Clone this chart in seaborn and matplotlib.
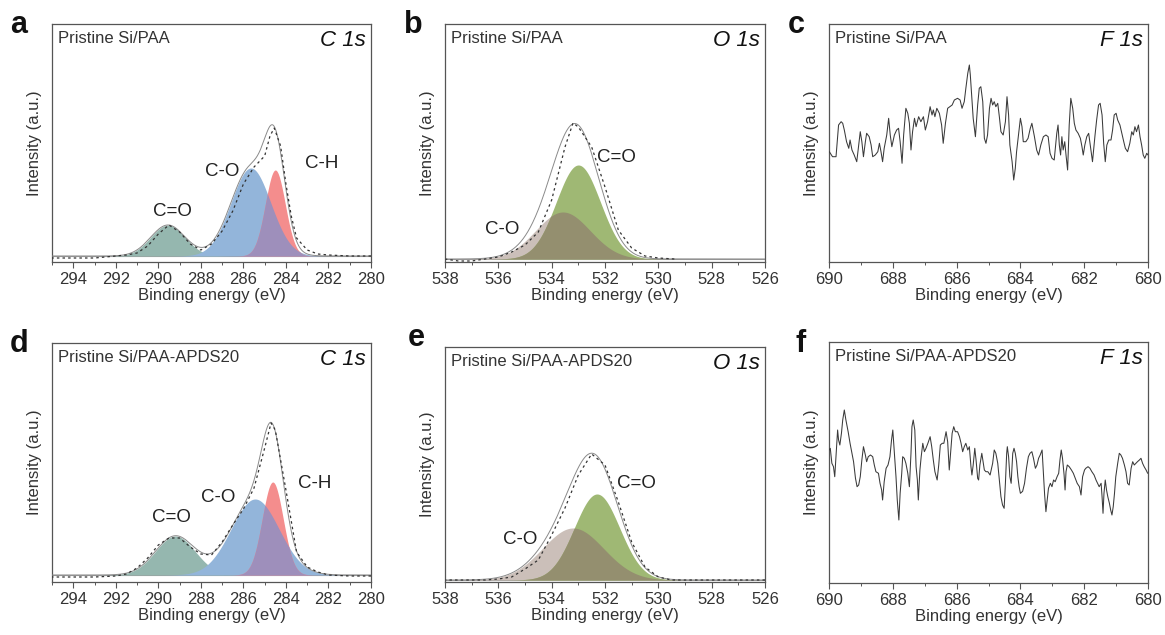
import numpy as np
import pandas as pd
import matplotlib
matplotlib.use("Agg")
import matplotlib.pyplot as plt
import seaborn as sns
from matplotlib.ticker import MultipleLocator

# ---------------- C 1s fit components (center eV, height a.u., FWHM eV) ----------------
c1s_names = ["C=O", "C-O", "C-H"]
c1s_a_center = [289.55, 285.65, 284.50]
c1s_a_height = [31, 88, 86]
c1s_a_fwhm = [1.9, 2.2, 1.1]
c1s_d_center = [289.20, 285.45, 284.62]
c1s_d_height = [39, 76, 93]
c1s_d_fwhm = [2.2, 2.65, 1.16]

# ---------------- O 1s fit components ----------------
o1s_names = ["C-O", "C=O"]
o1s_b_center = [533.58, 533.00]
o1s_b_height = [47, 94]
o1s_b_fwhm = [2.4, 1.95]
o1s_e_center = [533.20, 532.30]
o1s_e_height = [52, 86]
o1s_e_fwhm = [2.7, 2.0]

c1s_a_energy = [295.0, 294.0, 293.0, 292.5, 292.0, 291.5, 291.0, 290.5, 290.0, 289.5, 289.0,
                288.5, 288.0, 287.5, 287.0, 286.5, 286.0, 285.5, 285.0, 284.75, 284.55, 284.25,
                284.0, 283.75, 283.5, 283.0, 282.5, 282.0, 281.0, 280.0]
c1s_a_counts = [-2, -2, -2, -1, 0, 1, 3, 10, 22, 31, 24,
                12, 6, 12, 25, 45, 72, 89, 100, 120, 128, 110,
                72, 40, 18, 6, 2, 1, 0, 0]

c1s_d_energy = [295.0, 294.0, 293.0, 292.0, 291.5, 291.0, 290.5, 290.0, 289.5, 289.0, 288.5,
                288.0, 287.5, 287.0, 286.5, 286.0, 285.5, 285.0, 284.7, 284.5, 284.0, 283.5,
                283.0, 282.5, 282.0, 281.0, 280.0]
c1s_d_counts = [-2, -2, -2, -1, 1, 7, 17, 30, 37, 37, 28,
                21, 20, 33, 50, 66, 87, 127, 152, 145, 85, 23,
                8, 3, 0, -1, -1]

o1s_b_energy = [538.0, 537.5, 537.0, 536.5, 536.0, 535.5, 535.0, 534.5, 534.0, 533.5, 533.2,
                533.0, 532.5, 532.0, 531.5, 531.0, 530.5, 530.0, 529.4]
o1s_b_counts = [0, -2, -2, 0, 2, 7, 14, 27, 59, 112, 136,
                132, 112, 72, 29, 11, 3, 1, 0]

o1s_e_energy = [538.0, 537.0, 536.5, 536.0, 535.5, 535.0, 534.5, 534.0, 533.5, 533.0, 532.5,
                532.0, 531.5, 531.0, 530.5, 530.0, 529.5, 529.0, 528.0, 526.0]
o1s_e_counts = [0, 0, 0, 1, 3, 11, 20, 45, 72, 105, 126,
                115, 78, 38, 13, 3, 0, 0, 0, 0]

# ---------------- F 1s spectra ----------------
f1s_c_energy = [689.99, 689.89, 689.78, 689.70, 689.62, 689.57, 689.52, 689.45, 689.38, 689.34,
                689.28, 689.21, 689.13, 689.07, 689.02, 688.97, 688.92, 688.86, 688.82, 688.74,
                688.68, 688.63, 688.55, 688.47, 688.42, 688.37, 688.32, 688.27, 688.19, 688.13,
                688.08, 688.03, 687.95, 687.88, 687.82, 687.77, 687.71, 687.66, 687.59, 687.53,
                687.48, 687.43, 687.38, 687.32, 687.27, 687.19, 687.12, 687.04, 686.98, 686.91,
                686.83, 686.77, 686.73, 686.68, 686.62, 686.54, 686.47, 686.42, 686.35, 686.28,
                686.21, 686.14, 686.07, 685.97, 685.89, 685.83, 685.76, 685.71, 685.65, 685.60,
                685.57, 685.52, 685.48, 685.41, 685.34, 685.29, 685.24, 685.18, 685.13, 685.08,
                685.03, 684.97, 684.92, 684.87, 684.82, 684.77, 684.71, 684.66, 684.61, 684.54,
                684.47, 684.42, 684.37, 684.33, 684.26, 684.21, 684.16, 684.12, 684.06, 684.00,
                683.95, 683.91, 683.83, 683.76, 683.69, 683.64, 683.56, 683.49, 683.43, 683.36,
                683.28, 683.20, 683.13, 683.07, 683.01, 682.94, 682.86, 682.82, 682.78, 682.74,
                682.70, 682.66, 682.61, 682.57, 682.52, 682.47, 682.42, 682.36, 682.31, 682.26,
                682.19, 682.12, 682.07, 682.03, 681.98, 681.92, 681.86, 681.81, 681.74, 681.66,
                681.61, 681.55, 681.50, 681.44, 681.39, 681.34, 681.29, 681.23, 681.16, 681.11,
                681.06, 681.00, 680.95, 680.88, 680.82, 680.76, 680.71, 680.64, 680.57, 680.51,
                680.46, 680.41, 680.36, 680.30, 680.25, 680.20, 680.15, 680.10, 680.04, 680.00]
f1s_c_counts = [110.3, 105.3, 105.3, 137.0, 140.3, 138.7, 132.0, 120.3, 113.7, 122.0,
                112.0, 107.0, 100.3, 117.0, 130.3, 120.3, 105.3, 120.3, 128.7, 125.3,
                117.0, 105.3, 107.0, 110.3, 118.7, 110.3, 100.3, 113.7, 127.0, 143.7,
                127.0, 115.3, 127.0, 132.0, 133.7, 120.3, 98.7, 127.0, 153.7, 148.7,
                138.7, 112.0, 130.3, 143.7, 135.3, 145.3, 140.3, 145.3, 132.0, 140.3,
                155.3, 147.0, 152.0, 145.3, 153.7, 148.7, 137.0, 118.7, 138.7, 153.7,
                155.3, 157.0, 162.0, 163.7, 162.0, 153.7, 160.3, 173.7, 188.7, 197.0,
                187.0, 163.7, 143.7, 125.3, 157.0, 173.7, 175.3, 160.3, 123.7, 118.7,
                127.0, 153.7, 163.7, 157.0, 160.3, 155.3, 158.7, 145.3, 130.3, 127.0,
                140.3, 165.3, 147.0, 117.0, 100.3, 82.0, 93.7, 110.3, 127.0, 143.7,
                135.3, 120.3, 120.3, 123.7, 133.7, 138.7, 125.3, 112.0, 107.0, 117.0,
                125.3, 127.0, 125.3, 108.7, 103.7, 102.0, 128.7, 137.0, 117.0, 107.0,
                125.3, 112.0, 120.3, 107.0, 92.0, 137.0, 163.7, 153.7, 138.7, 132.0,
                128.7, 123.7, 115.3, 107.0, 117.0, 125.3, 128.7, 117.0, 100.3, 127.0,
                142.0, 157.0, 158.7, 147.0, 118.7, 100.3, 117.0, 122.0, 122.0, 132.0,
                147.0, 148.7, 142.0, 137.0, 128.7, 120.3, 113.7, 110.3, 118.7, 130.3,
                127.0, 135.3, 130.3, 137.0, 125.3, 117.0, 107.0, 103.7, 108.7, 107.0]

f1s_f_energy = [690.00, 689.96, 689.91, 689.86, 689.82, 689.78, 689.73, 689.70, 689.66, 689.61,
                689.57, 689.52, 689.47, 689.40, 689.34, 689.28, 689.23, 689.17, 689.12, 689.07,
                689.02, 688.97, 688.92, 688.86, 688.82, 688.77, 688.70, 688.63, 688.58, 688.53,
                688.45, 688.40, 688.35, 688.32, 688.27, 688.21, 688.15, 688.09, 688.04, 688.00,
                687.95, 687.90, 687.86, 687.81, 687.77, 687.72, 687.69, 687.64, 687.59, 687.53,
                687.48, 687.43, 687.40, 687.36, 687.31, 687.27, 687.23, 687.20, 687.15, 687.11,
                687.06, 687.01, 686.96, 686.90, 686.83, 686.78, 686.73, 686.68, 686.61, 686.56,
                686.51, 686.45, 686.40, 686.37, 686.33, 686.28, 686.23, 686.19, 686.14, 686.09,
                686.04, 685.97, 685.91, 685.86, 685.81, 685.76, 685.71, 685.65, 685.60, 685.55,
                685.52, 685.48, 685.43, 685.39, 685.34, 685.31, 685.27, 685.21, 685.18, 685.13,
                685.08, 685.02, 684.95, 684.87, 684.82, 684.77, 684.71, 684.66, 684.61, 684.56,
                684.51, 684.47, 684.43, 684.41, 684.37, 684.33, 684.29, 684.24, 684.20, 684.16,
                684.12, 684.08, 684.04, 684.00, 683.93, 683.87, 683.81, 683.75, 683.70, 683.64,
                683.59, 683.53, 683.48, 683.43, 683.38, 683.32, 683.28, 683.24, 683.20, 683.16,
                683.12, 683.06, 683.01, 682.96, 682.91, 682.85, 682.80, 682.76, 682.72, 682.68,
                682.63, 682.60, 682.57, 682.53, 682.47, 682.40, 682.34, 682.28, 682.22, 682.15,
                682.10, 682.05, 681.99, 681.95, 681.88, 681.82, 681.76, 681.69, 681.63, 681.58,
                681.53, 681.47, 681.44, 681.41, 681.38, 681.34, 681.30, 681.26, 681.21, 681.17,
                681.13, 681.09, 681.05, 681.01, 680.95, 680.90, 680.85, 680.80, 680.74, 680.69,
                680.64, 680.59, 680.53, 680.48, 680.43, 680.38, 680.33, 680.27, 680.22, 680.17,
                680.12, 680.06, 680.01]
f1s_f_counts = [133.0, 134.7, 119.7, 116.3, 106.3, 128.0, 153.0, 143.0, 138.0, 149.7,
                163.0, 173.0, 163.0, 151.3, 139.7, 129.7, 121.3, 104.7, 96.3, 98.0,
                106.3, 123.0, 136.3, 128.0, 121.3, 126.3, 128.0, 126.3, 118.0, 111.3,
                109.7, 99.7, 93.0, 83.0, 101.3, 114.7, 118.0, 126.3, 143.0, 153.0,
                129.7, 106.3, 83.0, 63.0, 89.7, 109.7, 126.3, 124.7, 119.7, 109.7,
                96.3, 129.7, 156.3, 163.0, 153.0, 116.3, 103.0, 83.0, 113.0, 126.3,
                139.7, 131.3, 134.7, 139.7, 146.3, 136.3, 123.0, 111.3, 103.0, 118.0,
                138.0, 139.7, 139.7, 144.7, 151.3, 141.3, 113.0, 129.7, 149.7, 156.3,
                151.3, 151.3, 146.3, 139.7, 131.3, 136.3, 139.7, 133.0, 136.3, 116.3,
                108.0, 118.0, 134.7, 123.0, 104.7, 103.0, 118.0, 129.7, 123.0, 113.0,
                111.3, 111.3, 108.0, 119.7, 133.0, 129.7, 119.7, 103.0, 86.3, 78.0,
                74.7, 99.7, 129.7, 136.3, 126.3, 106.3, 99.7, 129.7, 134.7, 129.7,
                121.3, 106.3, 96.3, 89.7, 91.7, 99.7, 114.7, 126.3, 129.7, 131.3,
                124.7, 114.7, 118.0, 124.7, 128.0, 133.0, 109.7, 88.0, 71.3, 83.0,
                94.7, 99.7, 96.3, 103.0, 101.3, 106.3, 109.7, 123.0, 133.0, 124.7,
                108.0, 93.0, 111.3, 118.0, 116.3, 113.0, 109.7, 104.7, 99.7, 96.3,
                88.0, 106.3, 113.0, 114.7, 116.3, 114.7, 111.3, 108.0, 103.0, 99.7,
                96.3, 99.7, 86.3, 69.7, 89.7, 103.0, 93.0, 86.3, 79.7, 73.0,
                68.0, 76.3, 89.7, 106.3, 119.7, 129.7, 128.0, 124.7, 118.0, 111.3,
                99.7, 98.0, 114.7, 121.3, 118.0, 119.7, 121.3, 123.0, 124.7, 119.7,
                116.3, 113.0, 109.7]

# ---------------- text ----------------
panel_letters = ["a", "b", "c", "d", "e", "f"]
sample_names = ["Pristine Si/PAA", "Pristine Si/PAA-APDS20"]
core_levels = ["C 1s", "O 1s", "F 1s"]
x_label = "Binding energy (eV)"
y_label = "Intensity (a.u.)"

# ---------------- style ----------------
sns.set_theme(style="ticks")
plt.rcParams["font.family"] = ["Liberation Sans", "DejaVu Sans"]
TXT = "#333333"
SPINE = "#555555"
col_CO_c1s = "#95b7af"   # C=O (C 1s)
col_COs_c1s = "#93b5da"  # C-O (C 1s)
col_CH = "#f48d8d"
col_ov_c1s = "#9e8fbb"
col_CO_o1s = "#cbbfb9"   # C-O (O 1s)
col_CdO_o1s = "#9fb874"  # C=O (O 1s)
col_ov_o1s = "#948f6f"

W, H = 1165, 635
fig = plt.figure(figsize=(W / 100, H / 100), dpi=100)


def px_axes(left, top, right, bottom):
    return fig.add_axes([left / W, 1 - bottom / H, (right - left) / W, (bottom - top) / H])


def gauss(x, c, h, w):
    return h * np.exp(-4 * np.log(2) * (x - c) ** 2 / w ** 2)


def style_axes(ax, xlim, ylim):
    ax.set_xlim(*xlim)
    ax.set_ylim(*ylim)
    ax.set_yticks([])
    ax.xaxis.set_major_locator(MultipleLocator(2))
    ax.xaxis.set_minor_locator(MultipleLocator(1))
    ax.tick_params(axis="x", which="major", direction="out", length=4, width=0.8,
                   color=SPINE, labelsize=12, labelcolor=TXT, pad=3)
    ax.tick_params(axis="x", which="minor", direction="out", length=2.5, width=0.7, color=SPINE)
    for s in ax.spines.values():
        s.set_visible(True)
        s.set_color(SPINE)
        s.set_linewidth(0.9)
    ax.set_xlabel(x_label, fontsize=12, color=TXT, labelpad=1)
    ax.set_ylabel(y_label, fontsize=12, color=TXT, labelpad=7)


def header(ax, sample, level):
    ax.text(0.02, 0.972, sample, transform=ax.transAxes, ha="left", va="top",
            fontsize=12, color=TXT)
    ax.text(0.985, 0.975, level, transform=ax.transAxes, ha="right", va="top",
            fontsize=16, style="italic", color="#111111")


def draw_c1s(ax, centers, heights, fwhms, e_meas, c_meas, xlim, ylim):
    x = np.linspace(xlim[1], xlim[0], 800)
    comps = [gauss(x, c, h, w) for c, h, w in zip(centers, heights, fwhms)]
    ax.axhline(0, color="#9a9a9a", lw=0.8, zorder=1)
    ax.fill_between(x, 0, comps[0], color=col_CO_c1s, lw=0, zorder=2)
    ax.fill_between(x, 0, comps[1], color=col_COs_c1s, lw=0, zorder=2)
    ax.fill_between(x, 0, comps[2], color=col_CH, lw=0, zorder=2)
    ax.fill_between(x, 0, np.minimum(comps[1], comps[2]), color=col_ov_c1s, lw=0, zorder=3)
    env = pd.DataFrame({"E": x, "I": comps[0] + comps[1] + comps[2]})
    sns.lineplot(data=env, x="E", y="I", ax=ax, color="#8a8a8a", lw=0.7, zorder=4)
    meas = pd.DataFrame({"E": e_meas, "I": c_meas})
    sns.lineplot(data=meas, x="E", y="I", ax=ax, color="#333333", lw=0.9,
                 linestyle=(0, (2, 2.5)), zorder=5)


def draw_o1s(ax, centers, heights, fwhms, e_meas, c_meas, xlim, ylim):
    x = np.linspace(xlim[1], xlim[0], 800)
    comps = [gauss(x, c, h, w) for c, h, w in zip(centers, heights, fwhms)]
    ax.axhline(0, color="#9a9a9a", lw=0.8, zorder=1)
    ax.fill_between(x, 0, comps[0], color=col_CO_o1s, lw=0, zorder=2)
    ax.fill_between(x, 0, comps[1], color=col_CdO_o1s, lw=0, zorder=2)
    ax.fill_between(x, 0, np.minimum(comps[0], comps[1]), color=col_ov_o1s, lw=0, zorder=3)
    env = pd.DataFrame({"E": x, "I": comps[0] + comps[1]})
    sns.lineplot(data=env, x="E", y="I", ax=ax, color="#8a8a8a", lw=0.7, zorder=4)
    meas = pd.DataFrame({"E": e_meas, "I": c_meas})
    sns.lineplot(data=meas, x="E", y="I", ax=ax, color="#333333", lw=0.9,
                 linestyle=(0, (2, 2.5)), zorder=5)


def draw_f1s(ax, e, c):
    df = pd.DataFrame({"E": e, "I": c})
    sns.lineplot(data=df, x="E", y="I", ax=ax, color="#3a3a3a", lw=0.75, zorder=3)


# ---- panel a ----
ax_a = px_axes(52, 24, 371, 262)
draw_c1s(ax_a, c1s_a_center, c1s_a_height, c1s_a_fwhm, c1s_a_energy, c1s_a_counts, (295, 280), (-6, 232))
style_axes(ax_a, (295, 280), (-6, 232))
header(ax_a, sample_names[0], core_levels[0])
for lbl, ex, iy in zip(c1s_names, [289.36, 287.0, 282.3], [45, 84, 92]):
    ax_a.text(ex, iy, lbl, ha="center", va="center", fontsize=13.5, color="#222222")

# ---- panel b ----
ax_b = px_axes(445, 24, 765, 262)
draw_o1s(ax_b, o1s_b_center, o1s_b_height, o1s_b_fwhm, o1s_b_energy, o1s_b_counts, (538, 526), (-3, 235))
style_axes(ax_b, (538, 526), (-3, 235))
header(ax_b, sample_names[0], core_levels[1])
for lbl, ex, iy in zip(o1s_names, [535.87, 531.56], [29, 102]):
    ax_b.text(ex, iy, lbl, ha="center", va="center", fontsize=13.5, color="#222222")

# ---- panel c ----
ax_c = px_axes(829, 24, 1148, 262)
draw_f1s(ax_c, f1s_c_energy, f1s_c_counts)
style_axes(ax_c, (690, 680), (0, 238))
header(ax_c, sample_names[0], core_levels[2])

# ---- panel d ----
ax_d = px_axes(52, 343, 371, 582)
draw_c1s(ax_d, c1s_d_center, c1s_d_height, c1s_d_fwhm, c1s_d_energy, c1s_d_counts, (295, 280), (-7, 232))
style_axes(ax_d, (295, 280), (-7, 232))
header(ax_d, sample_names[1], core_levels[0])
for lbl, ex, iy in zip(c1s_names, [289.37, 287.18, 282.64], [58, 78, 92]):
    ax_d.text(ex, iy, lbl, ha="center", va="center", fontsize=13.5, color="#222222")

# ---- panel e ----
ax_e = px_axes(445, 347, 765, 582)
draw_o1s(ax_e, o1s_e_center, o1s_e_height, o1s_e_fwhm, o1s_e_energy, o1s_e_counts, (538, 526), (-2, 233))
style_axes(ax_e, (538, 526), (-2, 233))
header(ax_e, sample_names[1], core_levels[1])
for lbl, ex, iy in zip(o1s_names, [535.19, 530.81], [40, 97]):
    ax_e.text(ex, iy, lbl, ha="center", va="center", fontsize=13.5, color="#222222")

# ---- panel f ----
ax_f = px_axes(829, 342, 1148, 583)
draw_f1s(ax_f, f1s_f_energy, f1s_f_counts)
style_axes(ax_f, (690, 680), (0, 241))
header(ax_f, sample_names[1], core_levels[2])

# ---- panel letters ----
letter_pos = [(10, 33), (404, 33), (788, 33), (10, 352), (408, 346), (795, 352)]
for letter, (lx, ly) in zip(panel_letters, letter_pos):
    fig.text(lx / W, 1 - ly / H, letter, fontsize=22, fontweight="bold", color="#111111",
             ha="left", va="baseline")

fig.savefig("out.png", dpi=100)
